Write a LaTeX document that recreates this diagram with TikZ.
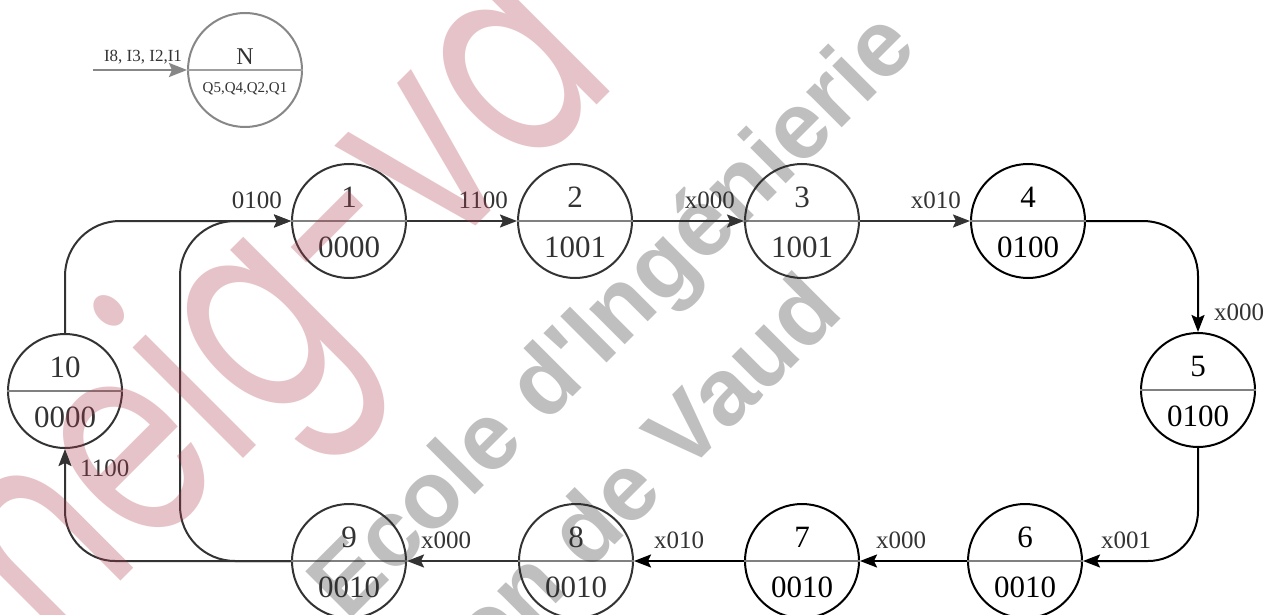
\documentclass[tikz,border=0pt]{standalone}
\usepackage{fontspec}
\setmainfont{Liberation Serif}
\newfontfamily\wmsans{Liberation Sans}
\newfontfamily\logofont{Poppins}
\usetikzlibrary{arrows.meta,calc}
\definecolor{ink}{RGB}{51,51,51}
\definecolor{divgray}{RGB}{128,128,128}
\definecolor{legendgray}{RGB}{135,135,135}
\definecolor{wmpink}{RGB}{175,58,75}
\definecolor{wmgray}{RGB}{45,45,45}

\begin{document}
\begin{tikzpicture}[x=1pt,y=-1pt,
  state/.style={circle,draw=ink,line width=2pt,minimum size=114pt,inner sep=0pt},
  divider/.style={draw=divgray,line width=1.5pt},
  num/.style={font=\fontsize{31}{31}\selectfont,text=ink,inner sep=0pt},
  lbl/.style={font=\fontsize{25}{25}\selectfont,text=ink,inner sep=0pt},
  edge/.style={draw=ink,line width=2pt,-{Stealth[length=17pt,width=13pt,inset=3pt]}},
  edgeb/.style={edge,draw=black},
  watermark/.style={rotate=45,anchor=base west,inner sep=0pt,opacity=0.3}
]
\fill[white] (0,0) rectangle (1274,615);
\useasboundingbox (0,0) rectangle (1274,615);

% legend: inputs on the arrow, state number over outputs
\node[circle,draw=legendgray,line width=2pt,minimum size=114pt,inner sep=0pt] (leg) at (245,70) {};
\draw[draw=legendgray!80,line width=1.2pt] (leg.west) -- (leg.east);
\node[font=\fontsize{24}{24}\selectfont,text=ink,inner sep=0pt] (legN) at (245,57) {N};
\node[font=\fontsize{15}{15}\selectfont,text=ink,inner sep=0pt] (legQ) at (245,89) {Q5,Q4,Q2,Q1};
\coordinate (legin) at (93,70);
\draw[draw=legendgray,line width=2.5pt,-{Stealth[length=18pt,width=14pt,inset=3pt]}] (legin) -- (leg.west);
\node[font=\fontsize{17}{17}\selectfont,text=ink,anchor=south,inner sep=0pt] (legI) at (143,64) {I8, I3, I2,I1};

% states: number above the line, outputs below
\foreach \n/\x/\y/\t/\b/\c in {
  1/349/221/1/0000/ink, 2/575/221/2/1001/ink, 3/802/221/3/1001/ink,
  4/1028/221/4/0100/black, 5/1198/390/5/0100/black, 6/1025/561/6/0010/black,
  7/802/561/7/0010/black, 8/576/561/8/0010/ink, 9/349/561/9/0010/ink,
  10/65/391/10/0000/ink} {
  \node[state,draw=\c] (s\n) at (\x,\y) {};
  \draw[divider] (s\n.west) -- (s\n.east);
  \node[num,text=\c] (t\n) at ($(s\n.center)+(0,-24)$) {\t};
  \node[num,text=\c] (b\n) at ($(s\n.center)+(0,26)$) {\b};
}

% transitions
\draw[edge] (s1.east) -- (s2.west);
\draw[edge] (s2.east) -- (s3.west);
\draw[edge] (s3.east) -- (s4.west);
\draw[edgeb,rounded corners=55pt] (s4.east) -| (s5.north);
\draw[edgeb,rounded corners=50pt] (s5.south) |- (s6.east);
\draw[edgeb] (s6.west) -- (s7.east);
\draw[edgeb] (s7.west) -- (s8.east);
\draw[edge] (s8.west) -- (s9.east);
\draw[edge,rounded corners=50pt] (s9.west) -| (s10.south);
\draw[edge,rounded corners=55pt] (s10.north) |- (s1.west);
\coordinate (loopbot) at (180,561);
\coordinate (looptop) at (180,221);
\draw[edge,rounded corners=55pt] (s9.west) -- (loopbot) -- (looptop) -- (s1.west);

% input conditions
\node[lbl,anchor=south east] (l12) at ($(s2.west)+(-9,-12)$) {1100};
\node[lbl,anchor=south east] (l23) at ($(s3.west)+(-9,-12)$) {x000};
\node[lbl,anchor=south east] (l34) at ($(s4.west)+(-9,-12)$) {x010};
\node[lbl,anchor=south east] (l101) at ($(s1.west)+(-9,-12)$) {0100};
\node[lbl,anchor=west] (l45) at ($(s5.north)+(16,-20)$) {x000};
\node[lbl,anchor=south west] (l56) at ($(s6.east)+(18,-12)$) {x001};
\node[lbl,anchor=south west] (l67) at ($(s7.east)+(16,-12)$) {x000};
\node[lbl,anchor=south west] (l78) at ($(s8.east)+(20,-12)$) {x010};
\node[lbl,anchor=south west] (l89) at ($(s9.east)+(14,-12)$) {x000};
\node[lbl,anchor=west] (l910) at ($(s10.south)+(15,19)$) {1100};

% school watermark
\node[watermark,text=wmpink,font=\logofont\fontsize{230}{230}\selectfont] (wmlogo) at (52.5,649.5) {\scalebox{0.88}[1.24]{heig-vd}};
\node[watermark,text=wmgray,font=\wmsans\bfseries\fontsize{95}{95}\selectfont] (wm1) at (142,828) {Haute Ecole d'Ingénierie};
\node[watermark,text=wmgray,font=\wmsans\bfseries\fontsize{95}{95}\selectfont] (wm2) at (237,923) {du Canton de Vaud};
\end{tikzpicture}
\end{document}
